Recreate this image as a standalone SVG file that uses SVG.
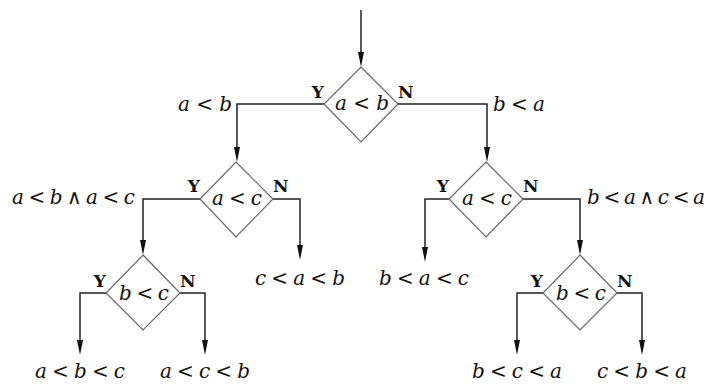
<svg xmlns="http://www.w3.org/2000/svg" width="715" height="385" viewBox="0 0 715 385">
<style>
.d{fill:none;stroke:#666;stroke-width:1.2}
.c{fill:none;stroke:#222;stroke-width:1.5}
.t{font-family:"DejaVu Serif","Liberation Serif",serif;font-size:20px;fill:#111}
.v{font-style:italic}
.yn{font-family:"DejaVu Serif","Liberation Serif",serif;font-size:17px;font-weight:bold;fill:#111}
.e{text-anchor:end}
</style>
<rect width="715" height="385" fill="#fff"/>
<g id="connectors">
<path class="c" d="M361,10 V60"/>
<path class="c" d="M324,104 H237 V155"/>
<path class="c" d="M398,104 H487 V155"/>
<path class="c" d="M200,199 H143 V248"/>
<path class="c" d="M273,199 H300 V253"/>
<path class="c" d="M449,199 H425 V255"/>
<path class="c" d="M523,199 H580 V248"/>
<path class="c" d="M106,293 H80 V348"/>
<path class="c" d="M180,293 H205 V348"/>
<path class="c" d="M543,293 H517 V348"/>
<path class="c" d="M617,293 H642 V348"/>
<g id="arrowheads" fill="#111">
<path d="M358,52 L364,52 L361,67 Z"/>
<path d="M234,147 L240,147 L237,162 Z"/>
<path d="M484,147 L490,147 L487,162 Z"/>
<path d="M140,240 L146,240 L143,255 Z"/>
<path d="M297,245 L303,245 L300,260 Z"/>
<path d="M422,247 L428,247 L425,262 Z"/>
<path d="M577,240 L583,240 L580,255 Z"/>
<path d="M77,340 L83,340 L80,355 Z"/>
<path d="M202,340 L208,340 L205,355 Z"/>
<path d="M514,340 L520,340 L517,355 Z"/>
<path d="M639,340 L645,340 L642,355 Z"/>
</g>
</g>
<g id="d1">
<polygon class="d" points="361,67 398,104 361,142 324,104"/>
<text class="t" x="335" y="110" textLength="54" lengthAdjust="spacing"><tspan class="v">a</tspan> &lt; <tspan class="v">b</tspan></text>
<text class="yn e" x="324" y="98">Y</text>
<text class="yn" x="398" y="98">N</text>
</g>
<g id="d2">
<polygon class="d" points="236,162 273,199 236,237 200,199"/>
<text class="t" x="212" y="205" textLength="50" lengthAdjust="spacing"><tspan class="v">a</tspan> &lt; <tspan class="v">c</tspan></text>
<text class="yn e" x="200" y="192">Y</text>
<text class="yn" x="273" y="192">N</text>
</g>
<g id="d3">
<polygon class="d" points="486,162 523,199 486,237 449,199"/>
<text class="t" x="462" y="205" textLength="50" lengthAdjust="spacing"><tspan class="v">a</tspan> &lt; <tspan class="v">c</tspan></text>
<text class="yn e" x="449" y="192">Y</text>
<text class="yn" x="523" y="192">N</text>
</g>
<g id="d4">
<polygon class="d" points="143,255 180,293 143,330 106,293"/>
<text class="t" x="119" y="300" textLength="50" lengthAdjust="spacing"><tspan class="v">b</tspan> &lt; <tspan class="v">c</tspan></text>
<text class="yn e" x="106" y="287">Y</text>
<text class="yn" x="180" y="287">N</text>
</g>
<g id="d5">
<polygon class="d" points="580,255 617,293 580,330 543,293"/>
<text class="t" x="556" y="300" textLength="50" lengthAdjust="spacing"><tspan class="v">b</tspan> &lt; <tspan class="v">c</tspan></text>
<text class="yn e" x="543" y="287">Y</text>
<text class="yn" x="617" y="287">N</text>
</g>
<g id="edge-labels">
<text class="t" x="178" y="111" textLength="54" lengthAdjust="spacing"><tspan class="v">a</tspan> &lt; <tspan class="v">b</tspan></text>
<text class="t" x="493" y="111" textLength="52" lengthAdjust="spacing"><tspan class="v">b</tspan> &lt; <tspan class="v">a</tspan></text>
<text class="t" x="12" y="204" textLength="123" lengthAdjust="spacing"><tspan class="v">a</tspan> &lt; <tspan class="v">b</tspan> ∧ <tspan class="v">a</tspan> &lt; <tspan class="v">c</tspan></text>
<text class="t" x="587" y="204" textLength="118" lengthAdjust="spacing"><tspan class="v">b</tspan> &lt; <tspan class="v">a</tspan> ∧ <tspan class="v">c</tspan> &lt; <tspan class="v">a</tspan></text>
</g>
<g id="leaf-cab"><text class="t" x="255" y="285" textLength="90" lengthAdjust="spacing"><tspan class="v">c</tspan> &lt; <tspan class="v">a</tspan> &lt; <tspan class="v">b</tspan></text></g>
<g id="leaf-bac"><text class="t" x="379" y="285" textLength="90" lengthAdjust="spacing"><tspan class="v">b</tspan> &lt; <tspan class="v">a</tspan> &lt; <tspan class="v">c</tspan></text></g>
<g id="leaf-abc"><text class="t" x="35" y="378" textLength="90" lengthAdjust="spacing"><tspan class="v">a</tspan> &lt; <tspan class="v">b</tspan> &lt; <tspan class="v">c</tspan></text></g>
<g id="leaf-acb"><text class="t" x="160" y="378" textLength="90" lengthAdjust="spacing"><tspan class="v">a</tspan> &lt; <tspan class="v">c</tspan> &lt; <tspan class="v">b</tspan></text></g>
<g id="leaf-bca"><text class="t" x="472" y="378" textLength="90" lengthAdjust="spacing"><tspan class="v">b</tspan> &lt; <tspan class="v">c</tspan> &lt; <tspan class="v">a</tspan></text></g>
<g id="leaf-cba"><text class="t" x="597" y="378" textLength="90" lengthAdjust="spacing"><tspan class="v">c</tspan> &lt; <tspan class="v">b</tspan> &lt; <tspan class="v">a</tspan></text></g>
</svg>
